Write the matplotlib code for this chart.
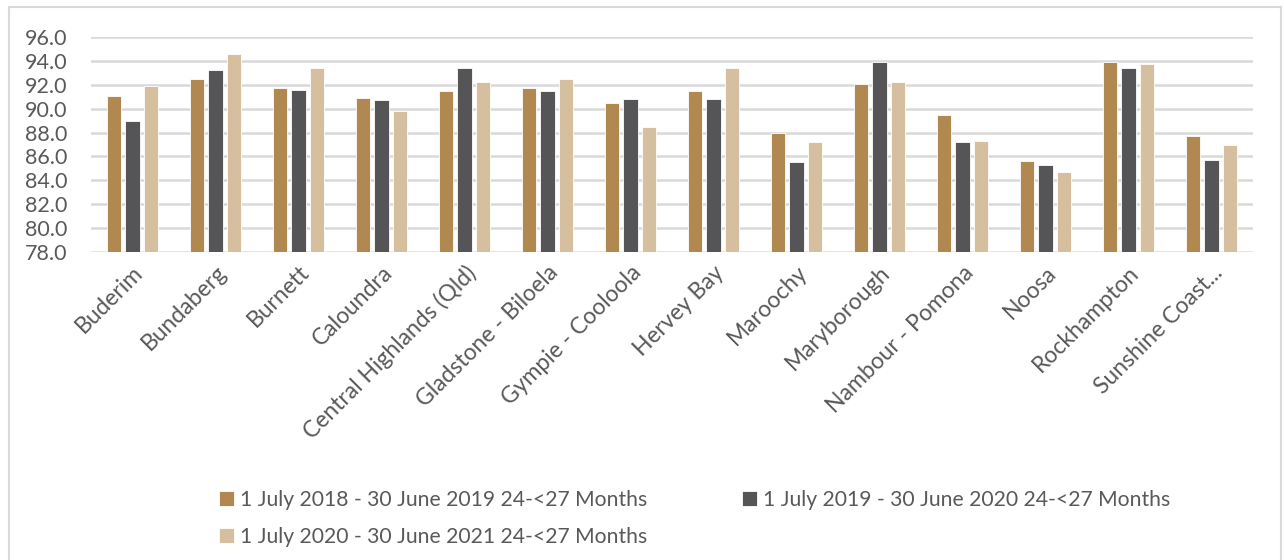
import numpy as np
import matplotlib
matplotlib.use("Agg")
import matplotlib.pyplot as plt
from matplotlib.patches import Rectangle

plt.rcParams['font.family'] = ['Lato', 'DejaVu Sans']

regions = ['Buderim', 'Bundaberg', 'Burnett', 'Caloundra', 'Central Highlands (Qld)',
           'Gladstone - Biloela', 'Gympie - Cooloola', 'Hervey Bay', 'Maroochy',
           'Maryborough', 'Nambour - Pomona', 'Noosa', 'Rockhampton', 'Sunshine Coast...']

y2019 = [91.1, 92.5, 91.7, 90.9, 91.5, 91.7, 90.5, 91.5, 88.0, 92.1, 89.5, 85.6, 93.9, 87.7]
y2020 = [89.0, 93.2, 91.6, 90.7, 93.4, 91.5, 90.8, 90.8, 85.5, 93.9, 87.2, 85.3, 93.4, 85.7]
y2021 = [91.9, 94.6, 93.4, 89.8, 92.2, 92.5, 88.5, 93.4, 87.2, 92.2, 87.3, 84.7, 93.7, 87.0]

labels = ['1 July 2018 - 30 June 2019 24-<27 Months',
          '1 July 2019 - 30 June 2020 24-<27 Months',
          '1 July 2020 - 30 June 2021 24-<27 Months']
colors = ['#B08850', '#555557', '#D6BF9F']
text_col = '#595959'
grid_col = '#D9D9D9'

fig = plt.figure(figsize=(12.84, 5.6), dpi=100)
ax = fig.add_axes([91 / 1284, 1 - 252 / 560, (1253 - 91) / 1284, (252 - 37) / 560])

x = np.arange(len(regions))
w = 0.17
step = 0.223
base = 78.0
bars = []
for i, (vals, c) in enumerate(zip([y2019, y2020, y2021], colors)):
    b = ax.bar(x + (i - 1) * step, np.array(vals) - base, w, bottom=base, color=c,
               edgecolor='white', linewidth=0.6, label=labels[i], zorder=3)
    bars.append(b)

ax.set_ylim(78, 96)
ax.set_xlim(-0.5, len(regions) - 0.5)
ax.set_yticks(np.arange(78, 96.1, 2))
ax.set_yticklabels([f'{v:.1f}' for v in np.arange(78, 96.1, 2)])
ax.yaxis.grid(True, color=grid_col, linewidth=1.8, zorder=0)
ax.set_axisbelow(True)
for s in ax.spines.values():
    s.set_visible(False)
ax.tick_params(axis='both', length=0, colors=text_col, labelsize=15.5)
ax.tick_params(axis='y', pad=17)
ax.set_xticks(x)
ax.set_xticklabels(regions, rotation=45, ha='right', rotation_mode='anchor', fontsize=16.5)
ax.tick_params(axis='x', pad=7)

# legend, ordered so the first two sit on the top row
fig.legend([bars[0], bars[2], bars[1]], [labels[0], labels[2], labels[1]],
           ncol=2, loc='upper left', bbox_to_anchor=(200 / 1284, 1 - 471 / 560),
           frameon=False, fontsize=15.2, labelcolor=text_col,
           handlelength=0.7, handleheight=0.7, handletextpad=0.3,
           columnspacing=4.5, labelspacing=0.8)

# outer chart frame
fig.patches.append(Rectangle((9 / 1284, -0.1), (1281 - 9) / 1284, 1.1 - 7 / 560,
                             transform=fig.transFigure, fill=False,
                             edgecolor=grid_col, linewidth=1.5))

fig.savefig('out.png', dpi=100)
